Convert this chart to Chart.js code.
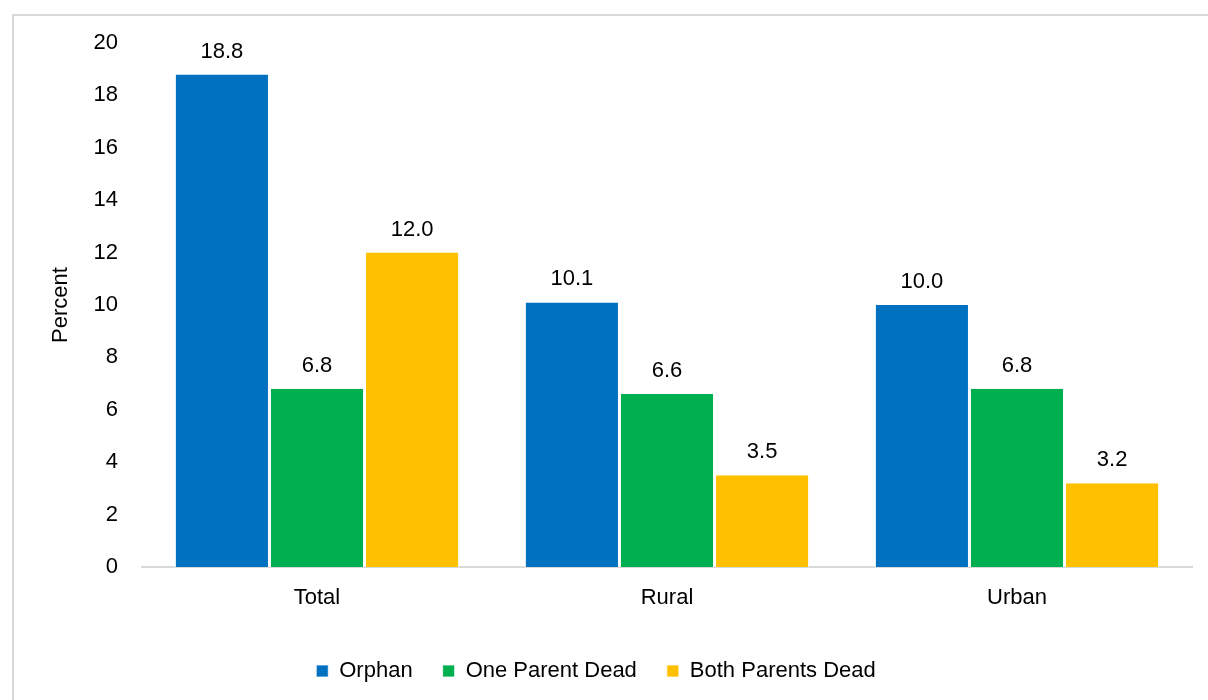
<!DOCTYPE html>
<html>
<head>
<meta charset="utf-8">
<script src="https://cdn.jsdelivr.net/npm/chart.js@4"></script>
<style>
  html, body { margin: 0; padding: 0; background: #fff; }
  #wrap { width: 1208px; height: 700px; }
</style>
</head>
<body>
<div id="wrap"><canvas id="c" width="1208" height="700"></canvas></div>
<script>
const categories = ["Total", "Rural", "Urban"];
const seriesNames = ["Orphan", "One Parent Dead", "Both Parents Dead"];
const orphan = [18.8, 10.1, 10.0];
const oneParentDead = [6.8, 6.6, 6.8];
const bothParentsDead = [12.0, 3.5, 3.2];
const yTicks = [0, 2, 4, 6, 8, 10, 12, 14, 16, 18, 20];
const colors = ["#0070C0", "#00B050", "#FFC000"];

const FONT = "'Liberation Sans Narrow', 'Arial Narrow', 'Liberation Sans', Arial, sans-serif";

const borderPlugin = {
  id: 'outerBorder',
  beforeDraw(chart) {
    const ctx = chart.ctx;
    ctx.save();
    ctx.fillStyle = '#fff';
    ctx.fillRect(0, 0, chart.width, chart.height);
    ctx.strokeStyle = '#d9d9d9';
    ctx.lineWidth = 2;
    ctx.strokeRect(13, 15, 1400, 900);
    ctx.restore();
  }
};

const valueLabels = {
  id: 'valueLabels',
  afterDatasetsDraw(chart) {
    const ctx = chart.ctx;
    ctx.save();
    ctx.font = "22px " + FONT;
    ctx.fillStyle = '#000';
    ctx.textAlign = 'center';
    ctx.textBaseline = 'middle';
    chart.data.datasets.forEach((ds, i) => {
      const meta = chart.getDatasetMeta(i);
      meta.data.forEach((bar, j) => {
        ctx.fillText(ds.data[j].toFixed(1), bar.x, bar.y - 23);
      });
    });
    ctx.restore();
  }
};

const seriesData = [orphan, oneParentDead, bothParentsDead];

new Chart(document.getElementById('c'), {
  type: 'bar',
  data: {
    labels: categories,
    datasets: seriesNames.map((name, i) => ({
      label: name,
      data: seriesData[i],
      backgroundColor: colors[i],
      borderColor: '#ffffff',
      borderWidth: { left: 1.5, right: 1.5, top: 0, bottom: 0 },
      borderSkipped: false,
      categoryPercentage: 0.815,
      barPercentage: 1.0
    }))
  },
  options: {
    responsive: false,
    animation: false,
    devicePixelRatio: 1,
    layout: { padding: { left: 0, right: 16, top: 43, bottom: 8 } },
    plugins: {
      legend: {
        position: 'bottom',
        maxHeight: 70,
        labels: {
          font: { family: FONT, size: 22 },
          color: '#000',
          boxWidth: 12,
          boxHeight: 12,
          padding: 30,
          useBorderRadius: false
        }
      },
      tooltip: { enabled: false }
    },
    scales: {
      x: {
        grid: { display: false, drawTicks: false },
        border: { display: true, color: '#d9d9d9', width: 2 },
        ticks: { font: { family: FONT, size: 22 }, color: '#000', padding: 18 },
        afterFit(scale) { scale.height = 63; }
      },
      y: {
        min: 0, max: 20,
        grid: { display: false, drawTicks: false },
        border: { display: false },
        afterBuildTicks(scale) { scale.ticks = yTicks.map(v => ({ value: v })); },
        ticks: { font: { family: FONT, size: 22 }, color: '#000', padding: 24 },
        title: {
          display: true, text: 'Percent',
          font: { family: FONT, size: 22 }, color: '#000',
          padding: { top: 48, bottom: 0 }
        },
        afterFit(scale) { scale.width = 142; }
      }
    }
  },
  plugins: [borderPlugin, valueLabels]
});
</script>
</body>
</html>
